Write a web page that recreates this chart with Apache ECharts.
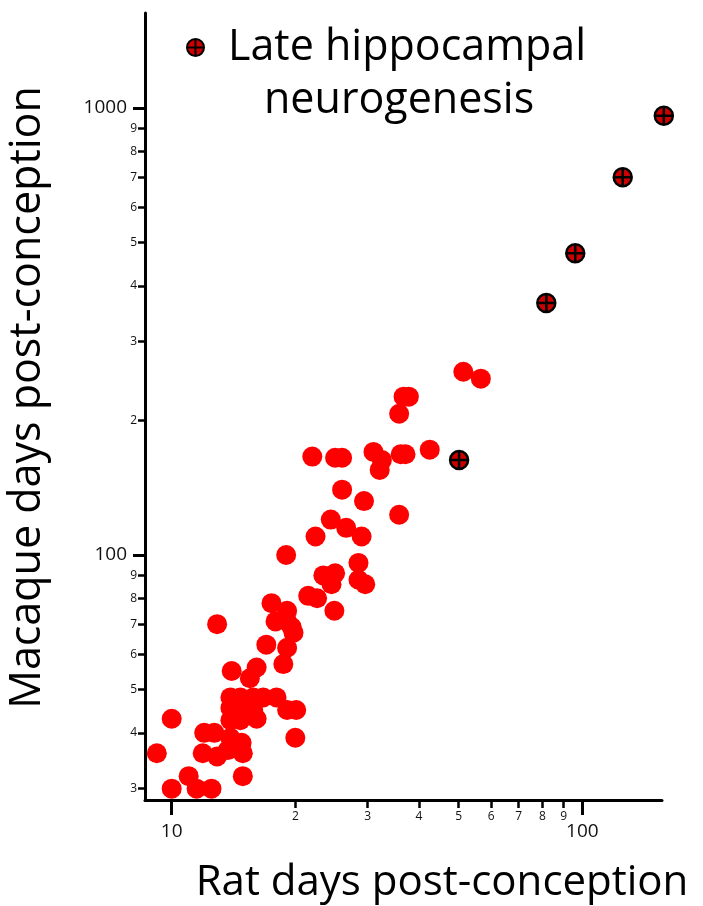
<!DOCTYPE html>
<html>
<head>
<meta charset="utf-8">
<script src="https://cdn.jsdelivr.net/npm/echarts@6/dist/echarts.min.js"></script>
<style>
html, body { margin: 0; padding: 0; background: #fff; }
#chart { width: 703px; height: 906px; }
</style>
</head>
<body>
<div id="chart"></div>
<script>
// developmental events: rat vs macaque, days post-conception
const ratDays = [51.3, 56.6, 36.7, 37.8, 35.8, 22.0, 25.0, 26.0, 31.0, 32.5,
  32.1, 36.1, 37.1, 42.5, 26.0, 29.4, 35.8, 24.4, 26.6, 29.0,
  22.4, 19.0, 28.5, 23.4, 25.0, 24.5, 28.5, 29.6, 21.5, 22.6,
  24.9, 17.5, 19.1, 12.9, 17.9, 19.1, 19.6, 19.8, 17.0, 19.1,
  18.7, 16.1, 14.0, 15.5, 13.9, 14.7, 15.8, 16.7, 18.0, 13.9,
  14.7, 15.8, 19.1, 20.1, 13.9, 14.7, 16.1, 10.0, 20.0, 12.0,
  12.7, 13.9, 14.8, 9.2, 11.9, 12.9, 13.7, 14.9, 14.9, 11.0,
  10.0, 11.5, 12.5]
const macaqueDays = [257, 248, 226, 226, 207, 166, 165, 165, 170, 163,
  155, 168, 168, 172, 140, 132, 123, 120, 115, 110,
  110, 100, 96, 90, 91, 86, 88, 86, 81, 80,
  75, 78, 75, 70, 71, 71, 69, 67, 63, 62,
  57, 56, 55, 53, 48, 48, 48, 48, 48, 45.5,
  45.5, 45, 45, 45, 42.7, 42.7, 43, 43, 39, 40,
  40, 39, 38, 36, 36, 35.4, 36.6, 36, 32, 32,
  30, 30, 30]

// late hippocampal neurogenesis
const lateRatDays = [50.1, 81.7, 96.1, 125.4, 157.9]
const lateMacaqueDays = [163, 366, 473, 700, 961]

const xMajorTicks = [10, 100]
const xMinorTicks = [20, 30, 40, 50, 60, 70, 80, 90]
const yMajorTicks = [100, 1000]
const yMinorTicks = [30, 40, 50, 60, 70, 80, 90, 200, 300, 400, 500, 600, 700, 800, 900]

const FONT = '"Open Sans", "Noto Sans", sans-serif'
const X_MIN = 8.61, X_MAX = 156.3
const Y_MIN = 28.3, Y_MAX = 1631

const chart = echarts.init(document.getElementById('chart'))

const crossCircle = 'path://M10,0A10,10,0,1,1,-10,0A10,10,0,1,1,10,0ZM-10,0L10,0M0,-10L0,10'
const firstDigit = v => String(v).charAt(0)
const plain = v => String(v)

chart.setOption({
  animation: false,
  backgroundColor: '#fff',
  grid: { left: 145, right: 41, top: 13, bottom: 106, outerBoundsMode: 'none' },
  legend: {
    data: ['Late hippocampal neurogenesis'],
    left: 186,
    top: 26,
    padding: 0,
    itemWidth: 17,
    itemHeight: 17,
    formatter: () => '{a|Late hippocampal}\n{b|neurogenesis}',
    textStyle: {
      fontFamily: FONT,
      fontSize: 43,
      color: '#000',
      padding: [53, 0, 0, 19],
      rich: {
        a: { fontFamily: FONT, fontSize: 43, lineHeight: 53, color: '#000' },
        b: { fontFamily: FONT, fontSize: 43, lineHeight: 53, color: '#000', padding: [0, 0, 0, 36] }
      }
    }
  },
  xAxis: [{
    type: 'log',
    position: 'bottom',
    min: X_MIN,
    max: X_MAX,
    name: 'Rat days post-conception',
    nameLocation: 'middle',
    nameGap: 62,
    nameTextStyle: { fontFamily: FONT, fontSize: 42, color: '#000', padding: [0, 0, 0, 77] },
    axisLine: { lineStyle: { color: '#000', width: 3 } },
    axisTick: { customValues: xMajorTicks, length: 15, lineStyle: { color: '#000', width: 3 } },
    axisLabel: { customValues: xMajorTicks, margin: 22, fontFamily: FONT, fontSize: 19, color: '#111', formatter: plain },
    splitLine: { show: false },
    minorTick: { show: false }
  }, {
    type: 'log',
    position: 'bottom',
    min: X_MIN,
    max: X_MAX,
    axisLine: { show: false },
    axisTick: { customValues: xMinorTicks, length: 8, lineStyle: { color: '#000', width: 2.5 } },
    axisLabel: { customValues: xMinorTicks, margin: 11, fontFamily: FONT, fontSize: 12, color: '#111', formatter: firstDigit },
    splitLine: { show: false }
  }],
  yAxis: [{
    type: 'log',
    position: 'left',
    min: Y_MIN,
    max: Y_MAX,
    name: 'Macaque days post-conception',
    nameLocation: 'middle',
    nameGap: 96,
    nameTextStyle: { fontFamily: FONT, fontSize: 43, color: '#000', padding: [0, 0, 0, 18] },
    axisLine: { lineStyle: { color: '#000', width: 3 } },
    axisTick: { customValues: yMajorTicks, length: 12, lineStyle: { color: '#000', width: 3 } },
    axisLabel: { customValues: yMajorTicks, margin: 18, fontFamily: FONT, fontSize: 19, color: '#111', formatter: plain },
    splitLine: { show: false }
  }, {
    type: 'log',
    position: 'left',
    min: Y_MIN,
    max: Y_MAX,
    axisLine: { show: false },
    axisTick: { customValues: yMinorTicks, length: 7, lineStyle: { color: '#000', width: 2.5 } },
    axisLabel: { customValues: yMinorTicks, margin: 8, fontFamily: FONT, fontSize: 12, color: '#111', formatter: firstDigit },
    splitLine: { show: false }
  }],
  series: [{
    name: 'Other events',
    type: 'scatter',
    xAxisIndex: 0,
    yAxisIndex: 0,
    clip: false,
    symbol: 'circle',
    symbolSize: 20,
    itemStyle: { color: '#ff0000', opacity: 1 },
    data: ratDays.map((x, i) => [x, macaqueDays[i]]),
    z: 2
  }, {
    name: 'Late hippocampal neurogenesis',
    type: 'scatter',
    xAxisIndex: 0,
    yAxisIndex: 0,
    clip: false,
    symbol: crossCircle,
    symbolSize: 18,
    itemStyle: { color: '#cc0000', borderColor: '#000', borderWidth: 2.5, opacity: 1 },
    data: lateRatDays.map((x, i) => [x, lateMacaqueDays[i]]),
    z: 3
  }]
})
</script>
</body>
</html>
